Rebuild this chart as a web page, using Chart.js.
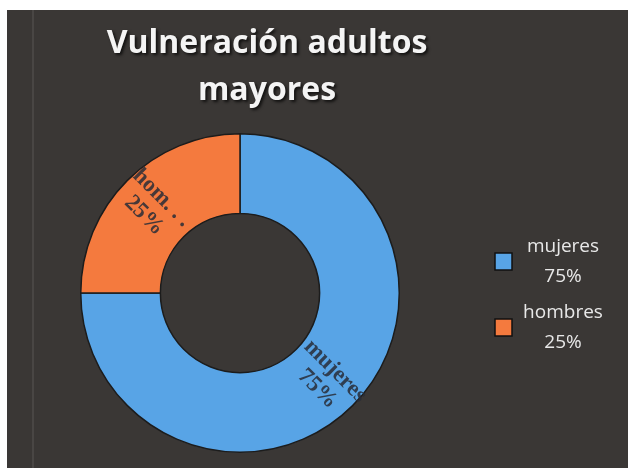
<!DOCTYPE html>
<html>
<head>
<meta charset="utf-8">
<script src="https://cdn.jsdelivr.net/npm/chart.js@4"></script>
<style>
  html, body { margin: 0; padding: 0; background: #fff; }
  #wrap { width: 628px; height: 468px; }
</style>
</head>
<body>
<div id="wrap"><canvas id="chart" width="628" height="468"></canvas></div>
<script>
const titleLines = ['Vulneración adultos', 'mayores']
const categories = ['mujeres', 'hombres']
const values = [75, 25]
const sliceText = ['mujeres', 'hom. . .']
const colors = ['#58a4e6', '#f47a3e']

const pct = v => Math.round(v / values.reduce((a, b) => a + b, 0) * 100) + '%'

const framePlugin = {
    id: 'frame',
    beforeDraw(chart) {
        const c = chart.ctx
        c.save()
        c.fillStyle = '#ffffff'
        c.fillRect(0, 0, chart.width, chart.height)
        c.fillStyle = '#3a3735'
        c.fillRect(7, 10, chart.width - 7, chart.height - 10)
        c.fillStyle = 'rgba(255,255,255,0.08)'
        c.fillRect(32, 10, 2, chart.height - 10)
        c.restore()
    },
    afterDraw(chart) {
        const c = chart.ctx
        c.save()
        // title
        c.font = 'bold 32px "Open Sans", sans-serif'
        c.textAlign = 'center'
        c.textBaseline = 'middle'
        c.shadowColor = 'rgba(0,0,0,0.7)'
        c.shadowOffsetX = 2
        c.shadowOffsetY = 2
        c.shadowBlur = 3
        c.fillStyle = '#f4f4f4'
        titleLines.forEach((t, i) => c.fillText(t, 267, 44 + i * 47))
        c.shadowColor = 'transparent'

        // slice labels
        const meta = chart.getDatasetMeta(0)
        c.font = 'bold 23px "Liberation Serif", serif'
        c.fillStyle = 'rgba(40,45,55,0.85)'
        meta.data.forEach((arc, i) => {
            const mid = (arc.startAngle + arc.endAngle) / 2
            const r = arc.outerRadius * 0.77
            const x = arc.x + Math.cos(mid) * r
            const y = arc.y + Math.sin(mid) * r
            let rot = mid
            if (Math.cos(mid) < 0) rot += Math.PI
            c.save()
            c.translate(x, y)
            c.rotate(rot)
            c.fillText(sliceText[i], 0, -12)
            c.fillText(pct(values[i]), 0, 13)
            c.restore()
        })

        // legend
        c.font = '19px "Open Sans", sans-serif'
        categories.forEach((cat, i) => {
            const y = 262 + i * 66
            c.fillStyle = colors[i]
            c.fillRect(495, y - 9, 17, 17)
            c.strokeStyle = '#111'
            c.lineWidth = 1.5
            c.strokeRect(495, y - 9, 17, 17)
            c.fillStyle = '#e8e8e8'
            c.fillText(cat, 563, y - 15)
            c.fillText(pct(values[i]), 563, y + 15)
        })
        c.restore()
    }
}

new Chart(document.getElementById('chart'), {
    type: 'doughnut',
    data: {
        labels: categories,
        datasets: [{
            data: values,
            backgroundColor: colors,
            borderColor: '#1c1c1c',
            borderWidth: 1.5,
        }]
    },
    options: {
        responsive: false,
        animation: false,
        cutout: '50%',
        layout: { padding: { left: 80, right: 228, top: 133, bottom: 15 } },
        plugins: {
            legend: { display: false },
            tooltip: { enabled: false },
            title: { display: false },
        }
    },
    plugins: [framePlugin]
})
</script>
</body>
</html>
